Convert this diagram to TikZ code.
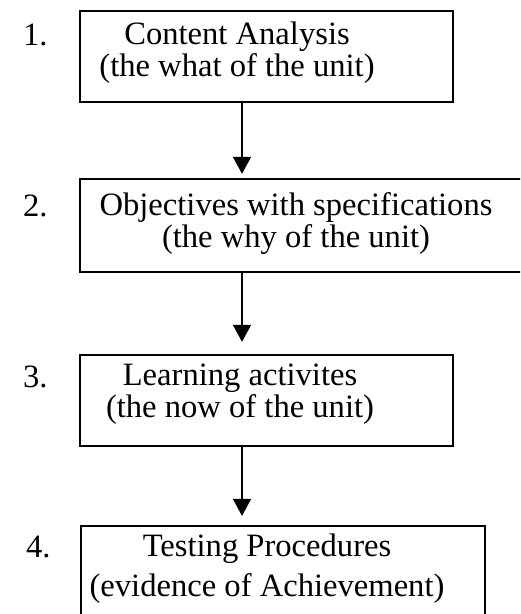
\documentclass[tikz,border=0pt]{standalone}
\usepackage{fontspec}
\setmainfont{Liberation Serif}
\usetikzlibrary{arrows.meta,fit}

\def\pagebox{(0,0) rectangle (520,614)}

\begin{document}
\begin{tikzpicture}[x=0.5pt,y=-0.5pt,
    box/.style={draw,line width=1.15pt,inner sep=0pt},
    txt/.style={align=center,inner sep=0pt,font=\fontsize{16.3}{14.5}\selectfont},
    num/.style={anchor=base east,inner sep=0pt,font=\fontsize{16.3}{14.5}\selectfont},
    flow/.style={line width=0.8pt,-{Triangle[width=9pt,length=8.5pt]}}]
        \useasboundingbox \pagebox;
        \clip \pagebox;
        \coordinate (axis) at (242,0);% arrows run down this line
        \node[box,fit={(80,11) (453,102)}] (box1) {};
        \node[box,fit={(80,179) (545,272)}] (box2) {};
        \node[box,fit={(80,355) (453,446)}] (box3) {};
        \node[box,fit={(81,526) (485,620)}] (box4) {};
        \node[txt] (txt1) at (237,52.6) {Content Analysis\\(the what of the unit)};
        \node[txt] (txt2) at (296,223.7) {Objectives with specifications\\(the why of the unit)};
        \node[txt] (txt3) at (240,394) {Learning activites\\(the now of the unit)};
        \node[txt,font=\fontsize{16.3}{20}\selectfont] (txt4) at (267,569) {Testing Procedures\\(evidence of Achievement)};
        \node[num] (num1) at (48,46) {1.};
        \node[num] (num2) at (48,217) {2.};
        \node[num] (num3) at (48,387) {3.};
        \node[num] (num4) at (51,557) {4.};
        \draw[flow,shorten >=2pt] (box1.south -| axis) -- (box2.north -| axis);
        \draw[flow,shorten >=6pt] (box2.south -| axis) -- (box3.north -| axis);
        \draw[flow,shorten >=4.5pt] (box3.south -| axis) -- (box4.north -| axis);
\end{tikzpicture}
\end{document}
